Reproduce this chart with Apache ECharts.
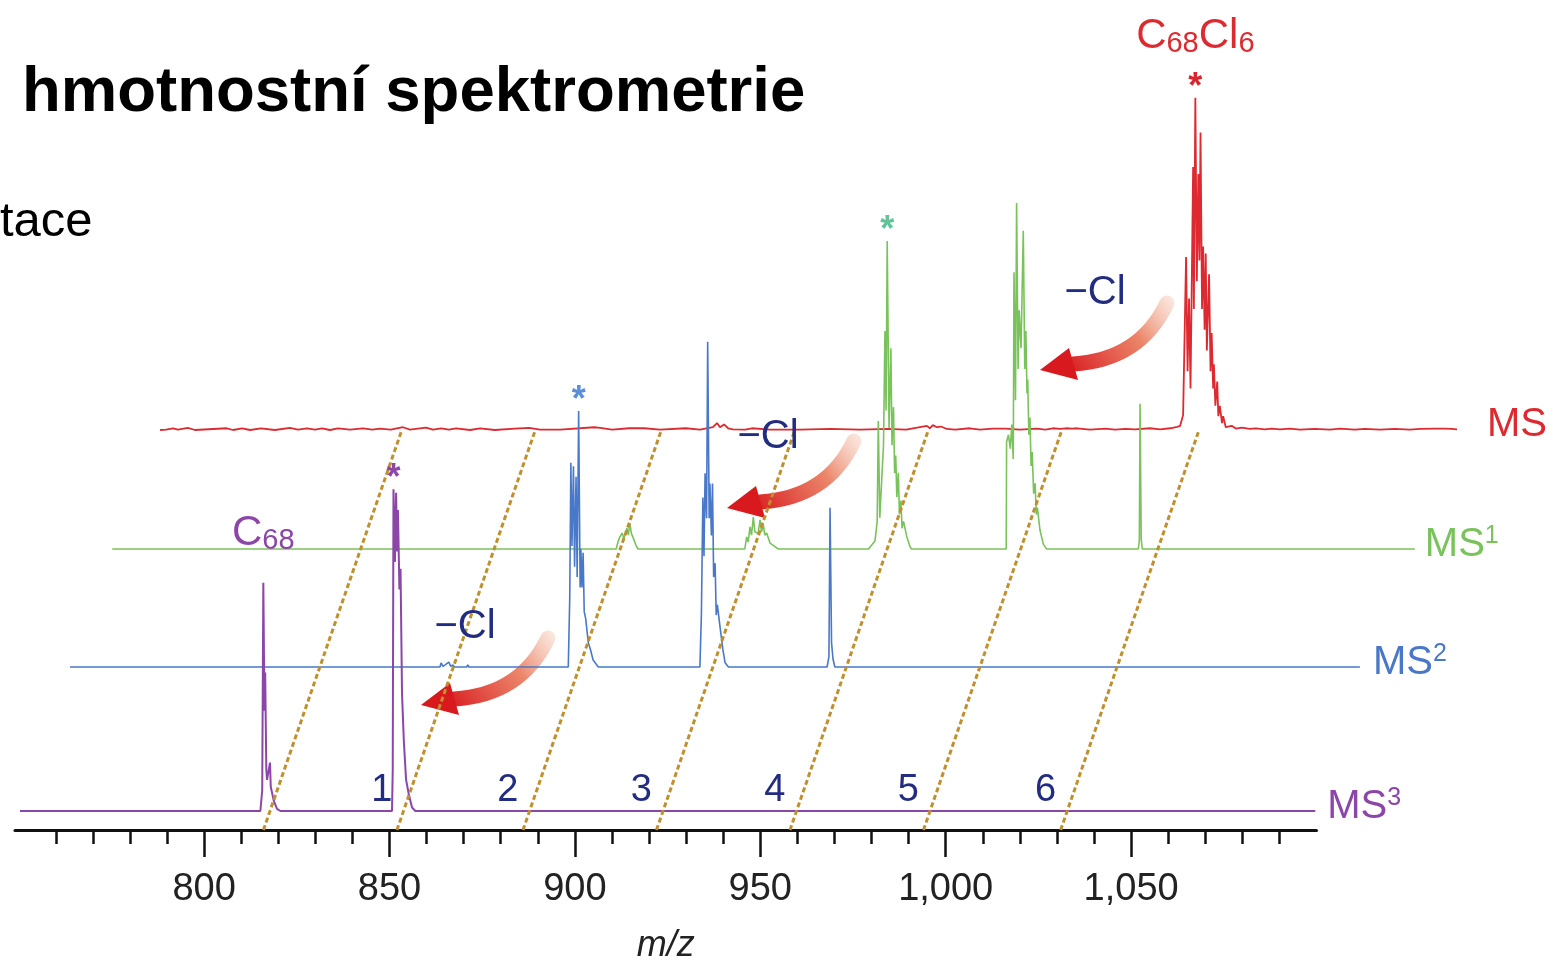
<!DOCTYPE html>
<html>
<head>
<meta charset="utf-8">
<title>hmotnostni spektrometrie</title>
<script src="https://cdn.jsdelivr.net/npm/echarts@6/dist/echarts.min.js"></script>
<style>
  html, body { margin: 0; padding: 0; background: #fff; }
  #chart { width: 1553px; height: 966px; }
</style>
</head>
<body>
<div id="chart"></div>
<script>
// bottom m/z axis
var minorTicks = [760, 770, 780, 790, 800, 810, 820, 830, 840, 850, 860, 870, 880, 890, 900,
  910, 920, 930, 940, 950, 960, 970, 980, 990, 1000, 1010, 1020, 1030, 1040, 1050, 1060,
  1070, 1080, 1090];
var majorTicks = [800, 850, 900, 950, 1000, 1050];

// slanted guide lines (m/z at the axis) and their step numbers
var markerMz = [816, 852, 886, 922, 958, 994, 1031];
var markerLabels = ['', '1', '2', '3', '4', '5', '6'];

// spectra: [m/z, relative intensity]
var msRed = [
  [750.8, 0], [751.1, 0.5], [752.4, 0.1], [754.3, 0.5], [755.6, 0.1], [758.3, 0.6], [760.2, 0],
  [768.8, 0.5], [770.5, 0], [772.9, 0.5], [775.1, 0], [778.0, 0.5], [781.8, 0], [785.8, 0.6],
  [788.0, 0.1], [790.4, 0.5], [792.6, 0.1], [794.5, 0.5], [796.6, 0], [798.8, 0.5], [802.0, 0.1],
  [805.5, 0.5], [808.0, 0.1], [810.1, 0.4], [813.0, 0.1], [816.3, 0.8], [818.2, 0.1], [822.5, 0.7],
  [824.4, 0.1], [826.6, 0.5], [828.7, 0.1], [830.6, 0.5], [834.4, 0], [837.1, 0.5], [841.1, 0],
  [846.5, 0.4], [850.3, 0.6], [853.3, 0.1], [858.7, 0.1], [867.9, 0.8], [869.5, 0.6], [872.7, 0.1],
  [877.3, 0.5], [881.4, 0.5], [885.6, 0.1], [892.6, 0.5], [896.4, 0.1], [899.9, 0.8], [901.0, 2.0],
  [901.8, 0.8], [902.9, 1.6], [904.0, 0.5], [905.3, 0.2], [908.6, 0.1], [910.4, 0.5], [915.3, 0.1],
  [923.4, 0.1], [931.5, 0.3], [939.6, 0.1], [947.0, 0.3], [952.0, 0.1], [957.6, 1.2], [958.4, 0.5],
  [959.2, 1.4], [960.3, 0.8], [961.4, 1.0], [963.0, 0.3], [965.2, 0.1], [969.2, 0.5], [971.9, 0.1],
  [975.4, 0.4], [978.7, 0.4], [982.7, 0.1], [987.3, 0.4], [989.5, 0.1], [991.6, 0.5], [993.5, 0.3],
  [995.1, 0.5], [996.8, 0.4], [998.1, 0.5], [1001.6, 0.1], [1005.7, 0.4], [1008.4, 0.1], [1011.1, 0.3],
  [1013.7, 0.2], [1017.8, 0.5], [1020.5, 0.2], [1023.2, 0.5], [1024.8, 0.8],
  [1025.9, 1.2], [1026.7, 4.3], [1027.5, 50], [1027.9, 17], [1028.3, 38], [1028.7, 12], [1029.4, 76],
  [1029.6, 35], [1030.0, 96], [1030.4, 43], [1030.8, 74], [1031.1, 49], [1031.4, 86], [1031.8, 35],
  [1032.1, 53], [1032.5, 29], [1032.8, 51], [1033.1, 23], [1033.7, 45], [1034.1, 17], [1034.4, 28],
  [1034.8, 12], [1035.0, 19], [1035.4, 7], [1035.9, 14], [1036.2, 4], [1036.6, 7], [1037.2, 2],
  [1037.5, 4], [1038.2, 0.8],
  [1039.8, 1.2], [1040.9, 0.4], [1042.5, 0.7], [1044.7, 0.3], [1046.3, 0.5], [1048.7, 0.2],
  [1050.6, 0.4], [1052.8, 0.2], [1055.5, 0.4], [1058.2, 0.1], [1062.2, 0.3], [1066.3, 0.1],
  [1069.0, 0.4], [1073.0, 0.1], [1075.7, 0.3], [1079.8, 0.1], [1083.8, 0.3], [1087.9, 0.1],
  [1090.6, 0.3], [1094.6, 0.4], [1097.3, 0.4], [1099.2, 0.3], [1101.4, 0.1]
];
var msGreen = [
  [749.0, 0],
  [884.9, 0], [885.4, 2], [885.9, 3.5], [886.5, 4.6], [887.0, 3], [887.8, 6], [888.2, 4], [888.6, 7.5],
  [889.0, 4.5], [889.4, 3.5], [890.2, 1.2], [890.8, 0],
  [919.6, 0], [920.1, 3.5], [920.5, 2], [921.0, 6.4], [921.4, 4], [921.9, 9.2], [922.3, 5], [922.8, 5.5],
  [923.2, 4.5], [923.7, 8.4], [924.1, 5], [924.6, 7], [925.0, 4], [925.5, 4.6], [926.4, 1.7],
  [928.2, 0.3], [928.8, 0],
  [953.0, 0], [953.4, 0.6], [954.7, 2.3], [955.3, 8], [955.6, 37], [956.0, 9], [956.3, 9], [957.0, 30],
  [957.4, 63], [957.7, 40], [958.0, 89], [958.5, 35], [959.0, 58], [959.3, 30], [959.7, 41], [960.0, 22],
  [960.3, 27], [960.6, 15], [961.0, 22], [961.3, 10], [961.7, 14], [962.0, 6], [962.4, 8], [963.3, 3.5],
  [964.2, 0.6], [964.6, 0],
  [990.1, 0], [990.2, 31], [990.7, 33], [991.2, 29], [991.6, 36], [992.0, 26], [992.2, 80], [992.6, 43],
  [992.9, 100], [993.3, 52], [993.6, 69], [994.1, 58], [994.7, 92], [995.1, 52], [995.4, 63], [995.7, 45],
  [995.9, 49], [996.2, 33], [996.5, 38], [996.8, 24], [997.1, 28], [997.5, 16], [997.9, 19], [998.2, 10],
  [998.5, 12], [999.2, 5.5], [1000.1, 1.4], [1001.0, 0],
  [1025.7, 0], [1026.0, 2.3], [1026.2, 42], [1026.5, 3], [1026.8, 0],
  [1100.3, 0]
];
var msBlue = [
  [748.1, 0],
  [848.4, 0], [848.7, 1.2], [849.2, 0.2], [849.8, 0.6], [850.3, 0.2], [850.8, 1.4], [851.3, 0.2],
  [851.9, 0.6], [852.3, 0], [855.6, 0], [855.9, 0.6], [856.2, 0],
  [883.0, 0], [883.4, 20], [883.7, 59], [884.0, 35], [884.4, 58], [884.7, 29], [885.1, 55], [885.4, 26],
  [885.8, 74], [886.2, 23], [886.4, 34], [886.7, 23], [887.0, 33], [887.3, 16], [887.7, 14], [888.4, 7],
  [889.0, 5], [889.7, 2], [891.1, 0],
  [918.5, 0], [918.9, 15], [919.3, 49], [919.6, 32], [919.9, 56], [920.3, 43], [920.6, 94], [921.0, 43],
  [921.2, 53], [921.6, 38], [921.9, 53], [922.2, 26], [922.6, 30], [922.9, 15], [923.2, 18], [924.0, 11],
  [924.7, 5], [925.3, 1.2], [926.2, 0],
  [952.8, 0], [953.3, 3], [953.6, 46], [954.0, 7], [954.4, 2.3], [954.9, 0],
  [1096.5, 0]
];
var msPurple = [
  [748.1, 0],
  [813.4, 0], [813.9, 6], [814.2, 66], [814.5, 29], [814.7, 40], [815.0, 12], [815.2, 9], [815.6, 9],
  [816.0, 14], [816.2, 7], [816.4, 6.6], [817.0, 3], [817.9, 0.6], [818.8, 0],
  [848.9, 0], [849.1, 12], [849.3, 93], [849.7, 72], [850.0, 92], [850.3, 75], [850.5, 87], [850.9, 64],
  [851.2, 70], [851.6, 34], [852.1, 20], [852.7, 9], [853.4, 5], [854.3, 1], [855.2, 0],
  [1097.9, 0]
];

// starred precursor peak of each spectrum (MS, MS1, MS2, MS3)
var precursorMz = [1030.0, 958.0, 885.8, 849.3];
var traceSup = ['', '1', '2', '3'];

var FONT = 'Liberation Sans, Arial, Helvetica, sans-serif';
var NAVY = '#222c80';
var AX_MIN = 749, AX_MAX = 1100;
var PLOT_LEFT = 15, PLOT_W = 1301.5;
var AXIS_Y = 830;
var SLOPE = 0.346;     // horizontal shift per px of height (oblique stacking)
var PEAK_H = 346;      // px for intensity 100

var traces = [
  {data: msRed, baseY: 430, color: '#dd2a30', star: '#d8262c', gap: 30, width: 1.8},
  {data: msGreen, baseY: 549, color: '#7ac25b', star: '#62c39a', gap: 10, width: 1.6},
  {data: msBlue, baseY: 667, color: '#4a78c8', star: '#5b8fd8', gap: 13, width: 1.6},
  {data: msPurple, baseY: 811, color: '#8c46a8', star: '#8c46a8', gap: 12, width: 2}
];

function intensityAt(data, mz) {
  for (var i = 0; i < data.length; i++) {
    if (data[i][0] === mz) return data[i][1];
  }
  return 0;
}

function formula(parts) {
  var s = '';
  parts.forEach(function (p, i) { s += (i % 2 ? '{s|' : '{b|') + p + '}'; });
  return s;
}

var chart = echarts.init(document.getElementById('chart'));

var grids = [{left: PLOT_LEFT, width: PLOT_W, top: traces[0].baseY, height: AXIS_Y - traces[0].baseY}];
var xAxes = [
  {
    gridIndex: 0, type: 'value', min: AX_MIN, max: AX_MAX, position: 'bottom',
    name: 'm/z', nameLocation: 'middle', nameGap: 98,
    nameTextStyle: {fontSize: 36, fontStyle: 'italic', color: '#222', fontFamily: FONT},
    axisLine: {onZero: false, lineStyle: {color: '#111', width: 3}},
    axisTick: {customValues: minorTicks, length: 14, lineStyle: {color: '#111', width: 2.5}},
    axisLabel: {show: false},
    splitLine: {show: false}
  },
  {
    gridIndex: 0, type: 'value', min: AX_MIN, max: AX_MAX, position: 'bottom',
    axisLine: {show: false, onZero: false},
    axisTick: {customValues: majorTicks, length: 27, lineStyle: {color: '#111', width: 2.5}},
    axisLabel: {
      customValues: majorTicks, margin: 41, fontSize: 38, color: '#222', fontFamily: FONT,
      formatter: function (v) { return v.toLocaleString('en-US'); }
    },
    splitLine: {show: false}
  }
];
var yAxes = [{gridIndex: 0, type: 'value', min: 0, max: 1, show: false}];
var series = [];

traces.forEach(function (t, i) {
  grids.push({
    left: PLOT_LEFT + (AXIS_Y - t.baseY) * SLOPE, width: PLOT_W,
    top: t.baseY - PEAK_H, height: PEAK_H
  });
  xAxes.push({gridIndex: i + 1, type: 'value', min: AX_MIN, max: AX_MAX, show: false});
  yAxes.push({gridIndex: i + 1, type: 'value', min: 0, max: 100, show: false});

  var marks = [{
    coord: [precursorMz[i], intensityAt(t.data, precursorMz[i])],
    label: {show: true, position: 'top', distance: -8, formatter: '*',
      fontSize: 36, fontWeight: 'bold', fontFamily: FONT, color: t.star}
  }];
  // subscripts pushed down with top padding
  var rich = {
    b: {fontSize: 42, fontFamily: FONT, color: t.color, lineHeight: 44},
    s: {fontSize: 29, fontFamily: FONT, color: t.color, padding: [16, 0, 0, 0]}
  };
  if (i === 0) {
    marks.push({
      coord: [precursorMz[0], intensityAt(t.data, precursorMz[0])],
      label: {show: true, position: 'top', distance: 39, formatter: formula(['C', '68', 'Cl', '6']), rich: rich}
    });
  }
  if (i === 3) {
    marks.push({
      coord: [814.2, intensityAt(t.data, 814.2)],
      label: {show: true, position: 'top', distance: 27, formatter: formula(['C', '68']), rich: rich}
    });
  }

  series.push({
    type: 'line', xAxisIndex: i + 2, yAxisIndex: i + 1, data: t.data,
    symbol: 'none', showSymbol: false, clip: false, z: 2,
    lineStyle: {color: t.color, width: t.width},
    endLabel: {
      show: true, distance: t.gap, offset: [0, -4],
      formatter: '{m|MS}' + (traceSup[i] ? '{p|' + traceSup[i] + '}' : ''),
      rich: {
        m: {fontSize: 40, fontFamily: FONT, color: t.color, lineHeight: 42},
        p: {fontSize: 25, fontFamily: FONT, color: t.color, lineHeight: 25, verticalAlign: 'top'}
      }
    },
    markPoint: {symbol: 'circle', symbolSize: 0, silent: true, data: marks}
  });
});

// dashed guides drawn obliquely from the axis up to the MS trace
series.push({
  type: 'custom', xAxisIndex: 0, yAxisIndex: 0, z: 4, silent: true,
  data: markerMz.map(function (m) { return [m, 0]; }),
  encode: {x: 0, y: 1},
  renderItem: function (params, api) {
    var b = api.coord([api.value(0), 0]);
    var top = api.coord([api.value(0), 1]);
    var dy = b[1] - top[1];
    var kids = [{
      type: 'line',
      shape: {x1: b[0], y1: b[1], x2: b[0] + dy * SLOPE, y2: top[1]},
      style: {stroke: '#c0902e', lineWidth: 3, lineDash: [5, 3]}
    }];
    var lab = markerLabels[params.dataIndex];
    if (lab) {
      kids.push({
        type: 'text', x: b[0] + 40 * SLOPE - 29, y: b[1] - 39,
        style: {text: lab, fill: NAVY, fontSize: 38, fontFamily: FONT, align: 'center', verticalAlign: 'middle'}
      });
    }
    return {type: 'group', children: kids};
  }
});

// curved "-Cl" arrows
var clNotes = [
  {tip: [1040, 370], text: [1095, 293]},
  {tip: [727, 508], text: [768, 437]},
  {tip: [421, 705], text: [465, 627]}
];
var graphics = [
  {type: 'text', x: 22, y: 93, z: 10,
    style: {text: 'hmotnostní spektrometrie', fontSize: 63.5, fontWeight: 'bold', fontFamily: FONT,
      fill: '#000', verticalAlign: 'middle'}},
  {type: 'text', x: 0, y: 222, z: 10,
    style: {text: 'tace', fontSize: 49, fontFamily: FONT, fill: '#000', verticalAlign: 'middle'}}
];
clNotes.forEach(function (n) {
  graphics.push({
    type: 'group', x: n.tip[0], y: n.tip[1], z: 20,
    children: [
      {type: 'bezierCurve',
        shape: {x1: 127, y1: -67, cpx1: 100, cpy1: -10, x2: 33, y2: -6},
        style: {
          fill: null, lineWidth: 15, lineCap: 'round',
          stroke: new echarts.graphic.LinearGradient(1, 0, 0, 1, [
            {offset: 0, color: 'rgba(240,175,145,0.25)'},
            {offset: 0.4, color: 'rgba(232,112,80,0.85)'},
            {offset: 1, color: '#d8191e'}
          ])
        }},
      {type: 'polygon', shape: {points: [[0, 0], [29, -22], [38, 10]]}, style: {fill: '#d8191e'}}
    ]
  });
  graphics.push({
    type: 'text', x: n.text[0], y: n.text[1], z: 20,
    style: {text: '\u2212Cl', fontSize: 40, fontFamily: FONT, fill: NAVY, align: 'center', verticalAlign: 'middle'}
  });
});

chart.setOption({
  animation: false,
  backgroundColor: '#fff',
  grid: grids,
  xAxis: xAxes,
  yAxis: yAxes,
  series: series,
  graphic: graphics
});
</script>
</body>
</html>
